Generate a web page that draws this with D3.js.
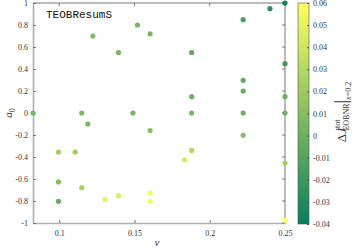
<!DOCTYPE html>
<html>
<head>
<meta charset="utf-8">
<script src="https://cdn.jsdelivr.net/npm/d3@7"></script>
<style>
  body { margin: 0; background: #fff; }
  svg { display: block; font-family: "Liberation Serif", "DejaVu Serif", serif; }
</style>
</head>
<body>
<div class="chart"></div>
<script>
// data: mass ratio nu, spin a0, colour value dJ
var nu = [0.0826, 0.115, 0.149, 0.1224, 0.1394, 0.152, 0.1604,
  0.25, 0.24, 0.2222, 0.188, 0.25, 0.2222, 0.2222, 0.188, 0.25,
  0.188, 0.2222, 0.25, 0.119, 0.1604, 0.0995, 0.1106, 0.0995, 0.115,
  0.0995, 0.1305, 0.1394, 0.1604, 0.1604, 0.2222, 0.188, 0.1832, 0.25, 0.25];
var a0 = [0, 0, 0, 0.7, 0.55, 0.8, 0.72,
  1, 0.948, 0.848, 0.55, 0.448, 0.297, 0.2, 0.148, 0.148,
  0, 0, 0, -0.1, -0.16, -0.355, -0.355, -0.627, -0.679,
  -0.803, -0.788, -0.752, -0.725, -0.803, -0.203, -0.34, -0.425, -0.455, -0.975];
var dJ = [0.005, 0.005, 0.004, 0.008, 0.004, 0.004, 0.004,
  -0.038, -0.026, -0.012, -0.006, -0.018, -0.005, -0.002, 0.0, 0.0,
  0.004, 0.0, 0.0, 0.004, 0.012, 0.02, 0.022, 0.01, 0.026,
  -0.002, 0.05, 0.045, 0.055, 0.056, 0.01, 0.03, 0.045, 0.024, 0.06];

var xTicks = [0.1, 0.15, 0.2, 0.25],
  yTicks = [-1, -0.8, -0.6, -0.4, -0.2, 0, 0.2, 0.4, 0.6, 0.8, 1],
  cTicks = [-0.04, -0.03, -0.02, -0.01, 0, 0.01, 0.02, 0.03, 0.04, 0.05, 0.06];

var w = 357, h = 250,
  pL = 33, pR = 285, pT = 3, pB = 223;

var svg = d3.select('.chart')
  .append('svg')
  .attr('width', w)
  .attr('height', h);

var x = d3.scaleLinear().domain([0.0826, 0.25]).range([pL, pR]);
var y = d3.scaleLinear().domain([-1, 1]).range([pB, pT]);

// summer-like colormap
var color = d3.scaleSequential(d3.interpolateRgb('#0a7d5e', '#ffff62'))
  .domain([-0.04, 0.06]);

var fmt = function (d) { return String(+d.toFixed(2)); };

// frame
svg.append('line').attr('x1', pL).attr('x2', pR).attr('y1', pT).attr('y2', pT)
  .attr('stroke', '#777').attr('stroke-width', 1);
svg.append('line').attr('x1', pR).attr('x2', pR).attr('y1', pT).attr('y2', pB)
  .attr('stroke', '#777').attr('stroke-width', 1);

// bottom axis
var xAxis = svg.append('g')
  .attr('transform', 'translate(0,' + pB + ')')
  .call(d3.axisBottom(x).tickValues(xTicks).tickSizeInner(-3).tickSizeOuter(0)
    .tickPadding(7).tickFormat(fmt));
// left axis
var yAxis = svg.append('g')
  .attr('transform', 'translate(' + pL + ',0)')
  .call(d3.axisLeft(y).tickValues(yTicks).tickSizeInner(-3).tickSizeOuter(0)
    .tickPadding(5).tickFormat(fmt));

[xAxis, yAxis].forEach(function (g) {
  g.select('.domain').attr('stroke', '#b0b0b0').attr('stroke-width', 1.6);
  g.selectAll('.tick line').attr('stroke', '#777');
  g.selectAll('.tick text').attr('fill', '#333').attr('font-size', '8px')
    .attr('font-family', '"Liberation Serif", serif');
});

// top and right mirrored ticks
svg.selectAll('.xtop').data(xTicks).enter().append('line')
  .attr('x1', d => x(d)).attr('x2', d => x(d))
  .attr('y1', pT).attr('y2', pT + 3).attr('stroke', '#777');
svg.selectAll('.yright').data(yTicks).enter().append('line')
  .attr('x1', pR).attr('x2', pR - 3)
  .attr('y1', d => y(d)).attr('y2', d => y(d)).attr('stroke', '#777');

// points
svg.selectAll('circle')
  .data(d3.range(nu.length))
  .enter()
  .append('circle')
  .attr('cx', i => x(nu[i]))
  .attr('cy', i => y(a0[i]))
  .attr('r', 2.6)
  .attr('fill', i => color(dJ[i]));

// title
svg.append('text')
  .attr('x', 46).attr('y', 18)
  .attr('font-family', '"Liberation Mono", monospace')
  .attr('font-size', '11px')
  .attr('fill', '#111')
  .text('TEOBResumS');

// axis labels
svg.append('text')
  .attr('x', 157).attr('y', 246)
  .attr('font-style', 'italic').attr('font-size', '11px').attr('fill', '#333')
  .attr('text-anchor', 'middle')
  .text('ν');
var yl = svg.append('text')
  .attr('transform', 'translate(12,' + y(0) + ') rotate(-90)')
  .attr('font-size', '11px').attr('fill', '#333')
  .attr('text-anchor', 'middle');
yl.append('tspan').attr('font-style', 'italic').text('a');
yl.append('tspan').attr('font-size', '8px').attr('dy', 3).text('0');

// colorbar
var cx0 = 298, cw = 11;
var cy = d3.scaleLinear().domain([-0.04, 0.06]).range([pB + 1, pT]);
var defs = svg.append('defs');
var grad = defs.append('linearGradient').attr('id', 'cbar')
  .attr('x1', 0).attr('x2', 0).attr('y1', 1).attr('y2', 0);
d3.range(0, 1.01, 0.1).forEach(function (t) {
  grad.append('stop').attr('offset', t)
    .attr('stop-color', color(-0.04 + t * 0.1));
});
svg.append('rect')
  .attr('x', cx0).attr('y', pT).attr('width', cw).attr('height', pB + 1 - pT)
  .attr('fill', 'url(#cbar)').attr('stroke', '#555').attr('stroke-width', 0.6);

var cAxis = svg.append('g')
  .attr('transform', 'translate(' + (cx0 + cw) + ',0)')
  .call(d3.axisRight(cy).tickValues(cTicks).tickSizeInner(-2).tickSizeOuter(0)
    .tickPadding(4).tickFormat(fmt));
cAxis.select('.domain').remove();
cAxis.selectAll('.tick line').attr('stroke', '#555');
cAxis.selectAll('.tick text').attr('fill', '#333').attr('font-size', '8px')
  .attr('font-family', '"Liberation Serif", serif');

// colorbar label
var cl = svg.append('text')
  .attr('transform', 'translate(346,112) rotate(-90)')
  .attr('font-size', '13px').attr('fill', '#333')
  .attr('text-anchor', 'middle');
cl.append('tspan').text('Δ');
cl.append('tspan').attr('font-style', 'italic').text('J\u0307');
cl.append('tspan').attr('font-size', '8px').attr('dy', -6).text('tot');
cl.append('tspan').attr('font-size', '8px').attr('dx', -11).attr('dy', 9).text('EOBNR');
cl.append('tspan').attr('font-size', '18px').attr('dy', -2).text('|');
cl.append('tspan').attr('font-size', '8px').attr('font-style', 'italic').attr('dy', 4).text('x');
cl.append('tspan').attr('font-size', '8px').text('=0.2');
</script>
</body>
</html>
